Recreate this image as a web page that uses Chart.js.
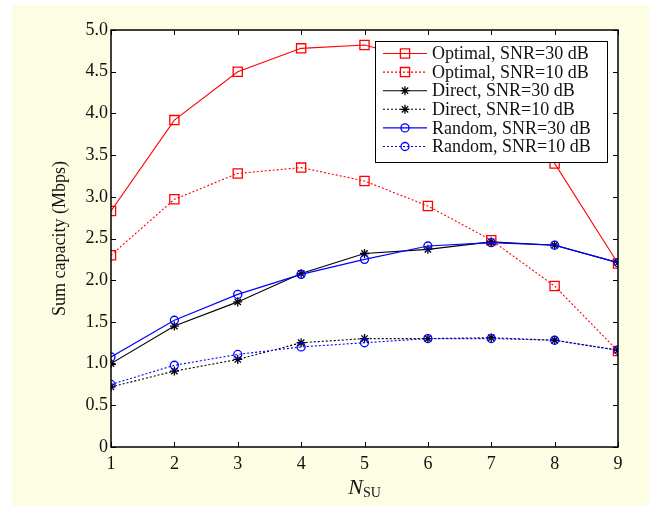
<!DOCTYPE html>
<html>
<head>
<meta charset="utf-8">
<script src="https://cdn.jsdelivr.net/npm/chart.js"></script>
<style>
  html, body { margin: 0; padding: 0; background: #fff; }
  #wrap { width: 649px; height: 506px; }
</style>
</head>
<body>
<div id="wrap"><canvas id="chart" width="649" height="506"></canvas></div>
<script>
// x axis: number of secondary users
const nsu = [1, 2, 3, 4, 5, 6, 7, 8, 9];

// sum capacity in Mbps
const optimal30 = [2.83, 3.92, 4.50, 4.78, 4.82, 4.62, 4.15, 3.40, 2.20];
const optimal10 = [2.30, 2.97, 3.28, 3.35, 3.19, 2.89, 2.48, 1.93, 1.15];
const direct30  = [1.00, 1.45, 1.74, 2.08, 2.32, 2.37, 2.46, 2.42, 2.21];
const direct10  = [0.72, 0.91, 1.05, 1.25, 1.30, 1.30, 1.31, 1.28, 1.16];
const random30  = [1.08, 1.52, 1.83, 2.07, 2.25, 2.41, 2.45, 2.42, 2.21];
const random10  = [0.75, 0.98, 1.11, 1.20, 1.25, 1.30, 1.30, 1.28, 1.16];

const seriesNames = [
  'Optimal, SNR=30 dB', 'Optimal, SNR=10 dB',
  'Direct, SNR=30 dB', 'Direct, SNR=10 dB',
  'Random, SNR=30 dB', 'Random, SNR=10 dB'
];
const yTickValues = [0, 0.5, 1.0, 1.5, 2.0, 2.5, 3.0, 3.5, 4.0, 4.5, 5.0];

const FONT = '"Liberation Serif", "Times New Roman", serif';
const TXT = '#111';

function pts(arr) {
  return nsu.map((x, i) => ({ x: x, y: arr[i] }));
}

function makeSet(i, values, color, dotted, marker, radius) {
  return {
    label: seriesNames[i],
    data: pts(values),
    borderColor: color,
    borderWidth: 1.1,
    borderDash: dotted ? [2, 2] : [],
    pointStyle: marker,
    pointRadius: radius,
    pointBorderColor: color,
    pointBackgroundColor: 'rgba(0,0,0,0)',
    pointBorderWidth: 1.3,
    tension: 0,
    fill: false,
    order: -i
  };
}

const datasets = [
  makeSet(0, optimal30, '#ff0000', false, 'rect', 6.5),
  makeSet(1, optimal10, '#ff0000', true, 'rect', 6.5),
  makeSet(2, direct30, '#000000', false, 'star', 4.5),
  makeSet(3, direct10, '#000000', true, 'star', 4.5),
  makeSet(4, random30, '#0000ff', false, 'circle', 4),
  makeSet(5, random10, '#0000ff', true, 'circle', 4)
];

// marker for the legend samples
function drawMarker(ctx, style, x, y, r, color) {
  ctx.save();
  ctx.setLineDash([]);
  ctx.strokeStyle = color;
  ctx.lineWidth = 1.3;
  ctx.beginPath();
  if (style === 'rect') {
    const s = Math.SQRT1_2 * r;
    ctx.rect(x - s, y - s, 2 * s, 2 * s);
  } else if (style === 'circle') {
    ctx.arc(x, y, r, 0, Math.PI * 2);
  } else {
    for (let k = 0; k < 4; k++) {
      const a = k * Math.PI / 4;
      ctx.moveTo(x - r * Math.cos(a), y - r * Math.sin(a));
      ctx.lineTo(x + r * Math.cos(a), y + r * Math.sin(a));
    }
  }
  ctx.stroke();
  ctx.restore();
}

const decor = {
  id: 'decor',
  beforeDraw(chart) {
    const ctx = chart.ctx;
    const a = chart.chartArea;
    ctx.save();
    ctx.fillStyle = '#ffffff';
    ctx.fillRect(0, 0, chart.width, chart.height);
    ctx.fillStyle = '#fdfde4';
    ctx.fillRect(12, 5, chart.width - 12, chart.height - 5);
    ctx.fillStyle = '#ffffff';
    ctx.fillRect(a.left, a.top, a.right - a.left, a.bottom - a.top);
    ctx.restore();
  },
  afterDraw(chart) {
    const ctx = chart.ctx;
    const a = chart.chartArea;
    const xs = chart.scales.x;
    const ys = chart.scales.y;
    ctx.save();

    // inward tick marks on all four sides
    ctx.strokeStyle = '#000';
    ctx.lineWidth = 1;
    ctx.beginPath();
    xs.ticks.forEach(t => {
      const px = Math.round(xs.getPixelForValue(t.value)) + 0.5;
      ctx.moveTo(px, a.bottom); ctx.lineTo(px, a.bottom - 5);
      ctx.moveTo(px, a.top); ctx.lineTo(px, a.top + 5);
    });
    ys.ticks.forEach(t => {
      const py = Math.round(ys.getPixelForValue(t.value)) + 0.5;
      ctx.moveTo(a.left, py); ctx.lineTo(a.left + 5, py);
      ctx.moveTo(a.right, py); ctx.lineTo(a.right - 5, py);
    });
    ctx.stroke();

    // legend box
    const lx = 375, ly = 41, lw = 232, lh = 121, rowH = 18.6;
    ctx.fillStyle = '#fff';
    ctx.fillRect(lx, ly, lw, lh);
    ctx.strokeStyle = '#000';
    ctx.lineWidth = 1;
    ctx.strokeRect(lx + 0.5, ly + 0.5, lw, lh);
    chart.data.datasets.forEach((ds, i) => {
      const cy = ly + 12.5 + i * rowH;
      ctx.save();
      ctx.strokeStyle = ds.borderColor;
      ctx.lineWidth = 1.1;
      ctx.setLineDash(ds.borderDash);
      ctx.beginPath();
      ctx.moveTo(383, cy);
      ctx.lineTo(427, cy);
      ctx.stroke();
      ctx.restore();
      drawMarker(ctx, ds.pointStyle, 405, cy, ds.pointRadius, ds.borderColor);
      ctx.fillStyle = TXT;
      ctx.font = '18px ' + FONT;
      ctx.textAlign = 'left';
      ctx.textBaseline = 'middle';
      ctx.fillText(ds.label, 432, cy + 1);
    });

    // plot frame
    ctx.strokeStyle = '#000';
    ctx.lineWidth = 1.5;
    ctx.strokeRect(a.left, a.top, a.right - a.left, a.bottom - a.top);

    // y axis title
    ctx.fillStyle = TXT;
    ctx.font = '18px ' + FONT;
    ctx.save();
    ctx.translate(60, (a.top + a.bottom) / 2);
    ctx.rotate(-Math.PI / 2);
    ctx.textAlign = 'center';
    ctx.textBaseline = 'middle';
    ctx.fillText('Sum capacity (Mbps)', 0, 0);
    ctx.restore();

    // x axis title: N with subscript SU
    ctx.textBaseline = 'alphabetic';
    ctx.textAlign = 'left';
    ctx.font = 'italic 22px ' + FONT;
    const nW = ctx.measureText('N').width;
    ctx.font = '14px ' + FONT;
    const sW = ctx.measureText('SU').width;
    const cx = (a.left + a.right) / 2;
    const startX = cx - (nW + sW) / 2;
    ctx.font = 'italic 22px ' + FONT;
    ctx.fillText('N', startX, 494);
    ctx.font = '14px ' + FONT;
    ctx.fillText('SU', startX + nW, 497);
    ctx.restore();
  }
};

new Chart(document.getElementById('chart'), {
  type: 'line',
  data: { datasets: datasets },
  options: {
    responsive: false,
    animation: false,
    devicePixelRatio: 1,
    layout: { padding: { top: 30, right: 31, left: 0, bottom: 0 } },
    plugins: {
      legend: { display: false },
      tooltip: { enabled: false },
      title: { display: false }
    },
    scales: {
      x: {
        type: 'linear',
        min: 1,
        max: 9,
        afterFit(scale) { scale.height = 59; },
        afterBuildTicks(scale) { scale.ticks = nsu.map(v => ({ value: v })); },
        ticks: {
          color: TXT,
          font: { family: FONT, size: 18 },
          padding: 6,
          maxRotation: 0,
          callback: v => String(v)
        },
        grid: { display: false, drawTicks: false },
        border: { display: false }
      },
      y: {
        min: 0,
        max: 5,
        afterFit(scale) { scale.width = 111; },
        afterBuildTicks(scale) { scale.ticks = yTickValues.map(v => ({ value: v })); },
        ticks: {
          color: TXT,
          font: { family: FONT, size: 18 },
          padding: 3,
          callback: v => (v === 0 ? '0' : v.toFixed(1))
        },
        grid: { display: false, drawTicks: false },
        border: { display: false }
      }
    }
  },
  plugins: [decor]
});
</script>
</body>
</html>
